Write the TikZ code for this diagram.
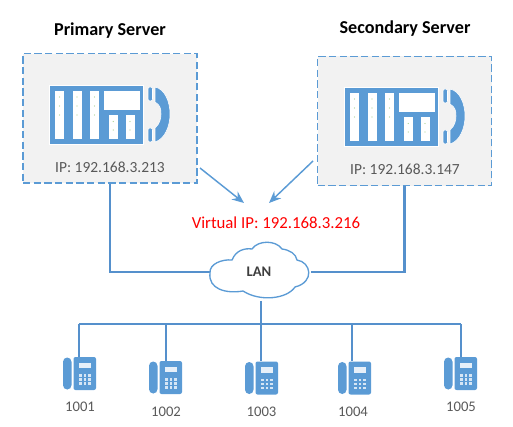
\documentclass[tikz,border=0pt]{standalone}
\usepackage{fontspec}
\setmainfont{Carlito}
\usetikzlibrary{arrows.meta,positioning,calc}

\definecolor{iconblue}{HTML}{5B9BD5}
\definecolor{wireblue}{HTML}{5590CC}
\definecolor{boxgray}{HTML}{F2F2F2}
\definecolor{textgray}{HTML}{595959}
\definecolor{dotgreen}{HTML}{A9D18E}

\tikzset{
  serverbox/.style={draw=iconblue, fill=boxgray, line width=1pt, dash pattern=on 5.5pt off 2.5pt, minimum width=130.5pt, minimum height=97pt, inner sep=0pt},
  extbox/.style={minimum width=24.75pt, minimum height=24.75pt, inner sep=0pt},
  wire/.style={draw=wireblue, line width=1.6pt},
  pointer/.style={draw=iconblue, line width=1.1pt, -{Stealth[length=9pt,width=7.5pt]}},
  iplabel/.style={text=textgray, font=\fontsize{11.6}{14}\selectfont},
  extlabel/.style={text=textgray, font=\fontsize{11}{13}\selectfont},
  title/.style={font=\bfseries\fontsize{13.6}{16}\selectfont},
  % switchboard with handset, origin at its top left corner
  pbx/.pic={
    \fill[iconblue, draw=white, line width=0.5pt] (0,0) rectangle (94,59);
    \fill[white] (6,6) rectangle (15,54);
    \fill[white] (23.5,6) rectangle (32.5,54);
    \fill[white] (41,6) rectangle (50,54);
    \fill[white] (55,6) rectangle (90.5,25);
    \fill[white] (60,30) rectangle (68.5,54);
    \fill[white] (76.5,30) rectangle (85.5,54);
    % dots on the cards
    \foreach \px in {10.5,28,45.5} \foreach \py in {12,21,30}
      \fill[dotgreen] (\px,\py) circle (0.5pt);
    \foreach \px in {64.3,81} \foreach \py in {36.5,45}
      \fill[dotgreen] (\px,\py) circle (0.5pt);
    % handset
    \fill[iconblue, draw=white, line width=0.4pt, rounded corners=1.5pt] (99,2) rectangle (103.5,16);
    \fill[iconblue, draw=white, line width=0.4pt, rounded corners=1.5pt] (99,43) rectangle (103.5,57);
    \fill[iconblue, draw=white, line width=0.4pt] (106,2) .. controls (116,4) and (121,17) .. (121,29)
      .. controls (121,41) and (116,54) .. (106,57) -- (106,43) .. controls (111,39) and (112,33) .. (112,29)
      .. controls (112,23) and (111,20) .. (106,17) -- cycle;
  },
  % desk phone, origin at the centre of its box
  deskphone/.pic={
    \fill[iconblue, rounded corners=3.2pt] (-16.5,-16) rectangle (-8,16);
    \fill[iconblue, rounded corners=1.5pt] (-6,-16.5) rectangle (16.5,16.5);
    \fill[white!85!iconblue] (-0.5,-11) rectangle (11.5,-5.5);
    \foreach \kx in {0,4.5,9} \foreach \ky in {0.5,4.5,8.5}
      \fill[white!75!iconblue] (\kx-0.5,\ky) rectangle ++(2.8,2.6);
  }
}

\begin{document}
\begin{tikzpicture}[x=0.75pt, y=-0.75pt]
\useasboundingbox (0,0) rectangle (513,427);

% Servers
\node[title] (titleA) at (110,31) {Primary Server};
\node[title] (titleB) at (405,29) {Secondary Server};
\node[serverbox] (srvA) at (110,118.5) {};
\node[serverbox] (srvB) at (404.5,121) {};
\pic at (49,85) {pbx};
\pic at (344,87) {pbx};
\node[iplabel] (ipA) at (110,167) {IP: 192.168.3.213};
\node[iplabel] (ipB) at (405,169) {IP: 192.168.3.147};

% Uplinks
\node[minimum width=75pt, minimum height=43pt, inner sep=0pt] (lan) at (261,272) {};
\draw[wire] (srvA.south) |- (lan.west);
\draw[wire] (srvB.south) |- (lan.east);

% Cloud
\draw[iconblue, fill=white, line width=1pt] (210,273) .. controls (209,264) and (222,259) .. (232,260)
  .. controls (236,250) and (245,248) .. (252,249) .. controls (258,240) and (276,240) .. (282,249)
  .. controls (290,250) and (296,254) .. (297,260) .. controls (311,262) and (315,282) .. (295,287)
  .. controls (287,299) and (260,302) .. (243,291) .. controls (226,294) and (208,289) .. (210,273) -- cycle;
\node[text=textgray!70!black, font=\bfseries\fontsize{11}{13}\selectfont] (lanlabel) at (259,272) {LAN};

% Virtual address
\node[text=red, font=\fontsize{12.6}{14}\selectfont] (vip) at (276,223) {Virtual IP: 192.168.3.216};
\coordinate (fromA) at (200,168);
\coordinate (toA) at (244,203);
\coordinate (fromB) at (313,161);
\coordinate (toB) at (269,203);
\draw[pointer] (fromA) -- (toA);
\draw[pointer] (fromB) -- (toB);

% Extensions
\node[extbox] (ext1) at (79.5,373.5) {};
\node[extbox] (ext2) at (165.5,377.5) {};
\node[extbox] (ext3) at (261.5,378) {};
\node[extbox] (ext4) at (354.5,378) {};
\node[extbox] (ext5) at (460.5,373.5) {};
\pic at (ext1) {deskphone};
\pic at (ext2) {deskphone};
\pic at (ext3) {deskphone};
\pic at (ext4) {deskphone};
\pic at (ext5) {deskphone};
\node[extlabel] (num1) at (80,407) {1001};
\node[extlabel] (num2) at (166,412) {1002};
\node[extlabel] (num3) at (261.5,412) {1003};
\node[extlabel] (num4) at (353,412) {1004};
\node[extlabel] (num5) at (461,407) {1005};

% Bus
\coordinate (bus1) at (79,324);
\coordinate (bus2) at (166,324);
\coordinate (bus3) at (261,324);
\coordinate (bus4) at (352,324);
\coordinate (bus5) at (461,324);
\draw[wire] (bus1) -- (bus5);
\draw[wire] (lan.south) -- (bus3);
\draw[wire] (bus1) -- (bus1 |- ext1.north);
\draw[wire] (bus2) -- (bus2 |- ext2.north);
\draw[wire] (bus3) -- (bus3 |- ext3.north);
\draw[wire] (bus4) -- (bus4 |- ext4.north);
\draw[wire] (bus5) -- (bus5 |- ext5.north);

\end{tikzpicture}
\end{document}
